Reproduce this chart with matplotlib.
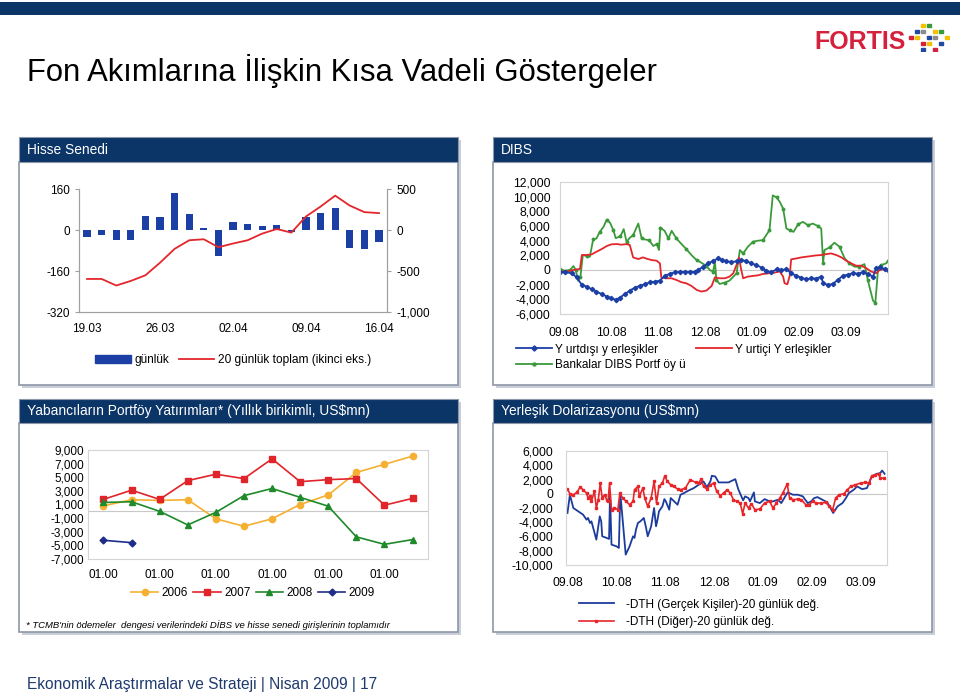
import matplotlib
matplotlib.use('Agg')
import matplotlib.pyplot as plt
from matplotlib.patches import Rectangle, Patch
from matplotlib.lines import Line2D
from matplotlib.ticker import FuncFormatter

W, H = 960, 693
NAVY = '#0b3467'
NARROW = ['Liberation Sans Narrow', 'Liberation Sans', 'DejaVu Sans']
plt.rcParams['font.family'] = ['Liberation Sans', 'DejaVu Sans']
plt.rcParams['font.size'] = 8

# --- Hisse Senedi (daily, US$mn) ---
hisse_dates = ['19.03', '20.03', '23.03', '24.03', '25.03', '26.03', '27.03', '30.03', '31.03', '01.04',
               '02.04', '03.04', '06.04', '07.04', '08.04', '09.04', '10.04', '13.04', '14.04', '15.04', '16.04']
hisse_gunluk = [-28, -21, -40, -40, 53, 49, 143, 62, 9, -102, 32, 25, 15, 21, -8, 49, 66, 85, -70, -74, -45]
hisse_toplam = [-597, -597, -677, -621, -552, -399, -230, -125, -113, -210, -165, -125, -44, 12, -32,
                165, 286, 419, 298, 218, 206]

# --- DIBS (x = months after 09.08) ---
month_labels = ['09.08', '10.08', '11.08', '12.08', '01.09', '02.09', '03.09']
yd_t = [-0.08, 0.02, 0.16, 0.27, 0.38, 0.48, 0.59, 0.69, 0.80, 0.91, 1.01, 1.10, 1.19, 1.30, 1.40,
        1.51, 1.61, 1.72, 1.83, 1.93, 2.04, 2.14, 2.25, 2.36, 2.46, 2.57, 2.68, 2.78, 2.85, 2.96,
        3.06, 3.17, 3.28, 3.35, 3.45, 3.56, 3.67, 3.77, 3.88, 3.98, 4.09, 4.20, 4.30, 4.41, 4.52,
        4.62, 4.73, 4.83, 4.94, 5.05, 5.15, 5.26, 5.36, 5.47, 5.51, 5.61, 5.72, 5.82, 5.93, 6.04,
        6.14, 6.25, 6.36, 6.46, 6.57, 6.64, 6.71, 6.82, 6.89]
yd_val = [-270, -270, -450, -1000, -2030, -2260, -2620, -2950, -3270, -3620, -3850, -4070, -3750, -3270, -2800,
          -2400, -2170, -1940, -1670, -1580, -1450, -800, -530, -300, -260, -260, -260, -260, 0, 450,
          900, 1220, 1580, 1360, 1180, 1090, 1180, 1350, 1220, 900, 680, 330, -130, -300, 100,
          0, 100, -440, -800, -1040, -1260, -1130, -1170, -900, -1800, -2030, -1900, -1350, -800, -620,
          -440, -490, -300, -590, -890, 240, 360, 140, 0]
yi_t = [-0.08, 0.06, 0.20, 0.34, 0.38, 0.48, 0.59, 0.69, 0.80, 0.91, 1.01, 1.12, 1.22, 1.33, 1.40,
        1.47, 1.58, 1.68, 1.76, 1.86, 1.97, 2.04, 2.07, 2.18, 2.29, 2.39, 2.50, 2.60, 2.71, 2.82,
        2.92, 3.03, 3.14, 3.21, 3.31, 3.42, 3.52, 3.60, 3.67, 3.72, 3.77, 3.81, 3.91, 4.02, 4.13,
        4.23, 4.37, 4.48, 4.59, 4.66, 4.69, 4.75, 4.80, 4.83, 4.94, 5.05, 5.15, 5.26, 5.36, 5.47,
        5.58, 5.68, 5.79, 5.90, 6.00, 6.11, 6.21, 6.32, 6.43, 6.53, 6.64, 6.71, 6.78, 6.89]
yi_val = [-210, -210, 0, 150, 2040, 2040, 2130, 2490, 2850, 3270, 3500, 3540, 3450, 3530, 3400,
          1720, 1490, 1720, 1540, 1360, 1270, 900, -1040, -1130, -1130, -1360, -1670, -1810, -2170, -2710,
          -2940, -2800, -2170, -1000, -1130, -1130, -900, -440, 700, 1700, 0, -1130, -900, -810, -720,
          -540, -440, -350, -200, -900, -1800, -1940, -800, 1450, 1580, 1720, 1810, 1900, 1990, 2040,
          2170, 2260, 2040, 1720, 1270, 900, 590, 590, 240, -210, -440, 0, 90, 0]
bk_t = [-0.08, 0.02, 0.13, 0.20, 0.25, 0.30, 0.35, 0.40, 0.48, 0.55, 0.62, 0.69, 0.76, 0.84, 0.91,
        0.98, 1.05, 1.10, 1.20, 1.27, 1.33, 1.40, 1.47, 1.58, 1.65, 1.72, 1.81, 1.90, 1.97, 2.02,
        2.05, 2.14, 2.22, 2.29, 2.39, 2.50, 2.60, 2.71, 2.82, 2.92, 3.03, 3.10, 3.17, 3.21, 3.24,
        3.31, 3.42, 3.52, 3.67, 3.74, 3.81, 3.91, 4.02, 4.13, 4.23, 4.30, 4.37, 4.44, 4.52, 4.59,
        4.66, 4.73, 4.80, 4.88, 4.98, 5.08, 5.19, 5.29, 5.40, 5.47, 5.51, 5.54, 5.65, 5.75, 5.86,
        5.97, 6.07, 6.18, 6.28, 6.39, 6.46, 6.57, 6.62, 6.68, 6.75, 6.85, 6.89]
bk_val = [90, -90, 0, 540, 0, -1490, -900, 2040, 1900, 1810, 4160, 4300, 5200, 5880, 6880,
          6430, 5430, 4340, 4610, 5570, 3860, 4390, 4750, 6340, 4340, 4160, 4070, 3270, 3540, 2720,
          5790, 5340, 4300, 5340, 4300, 3530, 2850, 2040, 1360, 1000, 540, 0, -210, 1130, -1360,
          -1900, -1720, -1450, -440, 2720, 2260, 3170, 3860, 4000, 4070, 4750, 5430, 10180, 9900, 9280,
          8370, 5650, 5430, 5200, 6240, 6560, 6100, 6330, 6000, 5650, 1000, 2720, 3090, 3720, 3170,
          1580, 900, 450, 450, 810, -1360, -4160, -4520, 240, 680, 900, 1270]

# --- Yabancilarin portfoy yatirimlari (monthly cumulative) ---
years = ['2006', '2007', '2008', '2009']
port_2006 = [800, 1700, 1600, 1700, -1100, -2200, -1100, 1000, 2400, 5700, 6900, 8100]
port_2007 = [1750, 3100, 1750, 4500, 5450, 4800, 7700, 4350, 4650, 4800, 900, 1900]
port_2008 = [1300, 1400, 0, -2000, -150, 2300, 3350, 2050, 750, -3750, -4850, -4150]
port_2009 = [-4250, -4600]

# --- Yerlesik dolarizasyonu ---
gk_t = [0.0, 0.05, 0.12, 0.22, 0.32, 0.39, 0.42, 0.46, 0.49, 0.59, 0.66, 0.69, 0.71, 0.80, 0.85,
        0.87, 0.90, 1.00, 1.05, 1.08, 1.19, 1.27, 1.34, 1.37, 1.40, 1.44, 1.49, 1.56, 1.60, 1.64,
        1.71, 1.77, 1.81, 1.84, 1.87, 1.94, 1.98, 2.01, 2.08, 2.11, 2.18, 2.25, 2.31, 2.38, 2.48,
        2.58, 2.68, 2.78, 2.85, 2.92, 2.95, 3.02, 3.09, 3.19, 3.29, 3.43, 3.49, 3.59, 3.63, 3.70,
        3.73, 3.81, 3.83, 3.93, 4.03, 4.13, 4.20, 4.30, 4.37, 4.47, 4.50, 4.61, 4.71, 4.81, 4.91,
        4.98, 5.04, 5.11, 5.21, 5.31, 5.43, 5.52, 5.62, 5.69, 5.75, 5.85, 5.92, 6.02, 6.12, 6.22,
        6.32, 6.39, 6.43, 6.48]
gk_val = [-2700, -140, -2000, -2470, -2940, -3640, -3400, -4100, -3870, -6440, -3170, -3870, -5970, -6200, -6340,
          -140, -7140, -7370, -7600, 90, -8540, -7370, -5970, -6200, -5040, -4100, -3870, -3400, -4570, -5970,
          -4570, -2000, -4570, -3640, -2470, -1770, -750, -1070, -2240, -600, -1070, -1540, -140, 90, 470,
          790, 1260, 1730, 930, 1730, 2520, 2430, 1590, 1590, 1590, 2050, 650, -930, -370, -610,
          -1070, 190, -1070, -1310, -750, -1070, -1070, -840, -1310, -140, 190, -140, -140, -370, -1310,
          -1070, -610, -470, -840, -1210, -2700, -1770, -1310, -610, 90, 560, 1030, 650, 790, 2430,
          2800, 2890, 3260, 2800]
dg_t = [0.0, 0.05, 0.12, 0.19, 0.26, 0.32, 0.39, 0.42, 0.46, 0.49, 0.55, 0.59, 0.63, 0.67, 0.71,
        0.76, 0.80, 0.83, 0.86, 0.90, 0.96, 1.03, 1.07, 1.13, 1.20, 1.27, 1.34, 1.37, 1.44, 1.47,
        1.54, 1.58, 1.64, 1.71, 1.77, 1.82, 1.87, 1.94, 1.99, 2.04, 2.11, 2.18, 2.25, 2.31, 2.41,
        2.51, 2.62, 2.68, 2.73, 2.78, 2.85, 2.92, 2.99, 3.05, 3.12, 3.19, 3.26, 3.33, 3.39, 3.46,
        3.53, 3.58, 3.63, 3.70, 3.76, 3.83, 3.93, 4.03, 4.13, 4.20, 4.27, 4.34, 4.40, 4.49, 4.54,
        4.61, 4.71, 4.78, 4.87, 4.94, 5.01, 5.08, 5.18, 5.28, 5.35, 5.42, 5.48, 5.55, 5.65, 5.72,
        5.79, 5.88, 5.99, 6.09, 6.16, 6.22, 6.29, 6.36, 6.39, 6.46]
dg_val = [650, 0, -140, 190, 930, 560, 90, -610, -370, -1070, 330, -2000, -840, 1490, -610,
          -140, -840, -1070, 1490, -2240, -2000, -2240, 90, -610, -1070, -1540, -1070, 560, 1030, -370,
          790, -610, -1770, -610, 1730, -1310, 1030, 1490, 2520, 1730, 1260, 1030, 650, 560, 790,
          1960, 1590, 1490, 2050, 1030, 650, 1260, 1490, 330, -280, 90, 560, 90, -840, -1070,
          -1310, -2800, -1310, -2000, -1400, -2240, -2150, -1310, -1070, -2000, -1310, -610, 90, 1350, -610,
          -840, -750, -840, -1540, -1540, -1070, -1310, -1310, -1210, -1770, -2240, -610, -140, 0, 560,
          1030, 1260, 1490, 1590, 1490, 2520, 2660, 2800, 2190, 2190]

RED = '#e3262b'
BLUE = '#1c3fa6'
GREEN = '#3a9a3a'
comma = FuncFormatter(lambda v, p: f'{v:,.0f}')


def px_rect(x0, y0, x1, y1):
    return [x0 / W, 1 - y1 / H, (x1 - x0) / W, (y1 - y0) / H]


def fig_box(x0, y0, x1, y1, **kw):
    fig.add_artist(Rectangle((x0 / W, 1 - y1 / H), (x1 - x0) / W, (y1 - y0) / H,
                             transform=fig.transFigure, zorder=-5, **kw))


def panel(x0, x1, yh0, yh1, yb, title):
    fig_box(x0 + 3, yh0 + 3, x1 + 3, yb + 3, facecolor='#c9ced8', edgecolor='none')
    fig_box(x0, yh1, x1, yb, facecolor='white', edgecolor='#8d97a8', linewidth=1.2)
    fig_box(x0, yh0, x1, yh1, facecolor=NAVY, edgecolor='#8d97a8', linewidth=0.8)
    fig.text((x0 + 8) / W, 1 - (yh0 + yh1) / 2 / H, title, color='white', fontsize=9.9,
             va='center', family=NARROW)


def light_frame(ax, color='#d4d4d4'):
    ax.patch.set_alpha(0)
    for s in ax.spines.values():
        s.set_color(color)
        s.set_linewidth(0.8)


fig = plt.figure(figsize=(W / 100, H / 100), dpi=100)

# header band, title, logo
fig_box(0, 2, W, 15, facecolor=NAVY, edgecolor='none')
fig.text(27 / W, 1 - 81 / H, 'Fon Akımlarına İlişkin Kısa Vadeli Göstergeler', fontsize=22.3,
         family=NARROW, va='baseline')
fig.text(814 / W, 1 - 49 / H, 'FORTIS', color='#d4213d', fontsize=18, fontweight='bold',
         family=NARROW, va='baseline')
logo = fig.add_axes(px_rect(908, 22, 950, 52))
logo.set_axis_off()
logo.set_xlim(0, 7)
logo.set_ylim(0, 5)
logo_cols = ['#f2c200', '#1f4aa0', '#d4213d', '#3a9a3a', '#8c8c8c']
for i in range(7):
    for j in range(5):
        if abs(i - 3) + abs(j - 2) <= 3 and (i + 2 * j) % 3 != 0:
            logo.add_patch(Rectangle((i + 0.2, j + 0.25), 0.6, 0.5,
                                     color=logo_cols[(i * 3 + j) % 5]))

fig.text(27 / W, 1 - 689 / H, 'Ekonomik Araştırmalar ve Strateji | Nisan 2009 | 17',
         color='#1f3a6e', fontsize=11.2, family=NARROW, va='baseline')

panel(19, 458, 137, 162, 385, 'Hisse Senedi')
panel(493, 932, 137, 162, 385, 'DIBS')
panel(19, 458, 399, 423, 632, 'Yabancıların Portföy Yatırımları* (Yıllık birikimli, US$mn)')
panel(493, 932, 399, 423, 632, 'Yerleşik Dolarizasyonu (US$mn)')

# ---- panel 1: Hisse Senedi ----
ax1 = fig.add_axes(px_rect(79, 189, 387, 312))
ax1.patch.set_alpha(0)
xi = list(range(len(hisse_dates)))
ax1.bar(xi, hisse_gunluk, width=0.5, color=BLUE, zorder=2)
ax1.set_xlim(-0.55, len(xi) - 0.45)
ax1.set_ylim(-320, 160)
ax1.set_yticks([160, 0, -160, -320])
ax1.yaxis.set_major_formatter(comma)
ax1.set_xticks(xi[::5])
ax1.set_xticklabels(hisse_dates[::5])
ax1b = ax1.twinx()
ax1b.plot(xi, hisse_toplam, color=RED, lw=1.3)
ax1b.set_ylim(-1000, 500)
ax1b.set_yticks([500, 0, -500, -1000])
ax1b.yaxis.set_major_formatter(comma)
for a in (ax1, ax1b):
    a.spines['top'].set_visible(False)
    for s in ('left', 'right', 'bottom'):
        a.spines[s].set_color('#a0a0a0')
    a.tick_params(colors='#a0a0a0', labelcolor='black', labelsize=8.5, length=3)
ax1.tick_params(axis='x', length=0, pad=8)
ax1.legend([Patch(color=BLUE), Line2D([], [], color=RED, lw=1.3)],
           ['günlük', '20 günlük toplam (ikinci eks.)'], loc='center',
           bbox_to_anchor=(233 / W, 1 - 360 / H), bbox_transform=fig.transFigure, ncol=2,
           frameon=False, fontsize=8.6, handlelength=3.0, handleheight=0.6, columnspacing=0.8,
           handletextpad=0.3)

# ---- panel 2: DIBS ----
ax2 = fig.add_axes(px_rect(560, 182, 888, 314))
ax2.axhline(0, color='#c8c8c8', lw=0.8)
l_bk, = ax2.plot(bk_t, bk_val, color=GREEN, lw=1.3, marker='o', ms=1.8, markevery=2)
l_yi, = ax2.plot(yi_t, yi_val, color=RED, lw=1.3)
l_yd, = ax2.plot(yd_t, yd_val, color=BLUE, lw=1.3, marker='D', ms=2.2)
ax2.set_xlim(-0.085, 6.89)
ax2.set_ylim(-6000, 12000)
ax2.set_yticks(range(-6000, 12001, 2000))
ax2.yaxis.set_major_formatter(comma)
ax2.set_xticks(range(7))
ax2.set_xticklabels(month_labels)
ax2.tick_params(axis='x', length=0, pad=9, labelsize=8.8)
ax2.tick_params(axis='y', length=0, pad=7, labelsize=8.8)
light_frame(ax2)
ax2.legend([l_yd, l_bk, l_yi], ['Y urtdışı y erleşikler', 'Bankalar DIBS Portf öy ü',
                                'Y urtiçi Y erleşikler'],
           loc='upper left', bbox_to_anchor=(505 / W, 1 - 333 / H), bbox_transform=fig.transFigure,
           ncol=2, frameon=False, fontsize=8.5, handlelength=3.1, handletextpad=0.2,
           columnspacing=0.9, labelspacing=0.3, numpoints=1, markerscale=1.2)

# ---- panel 3: portfoy yatirimlari ----
ax3 = fig.add_axes(px_rect(88, 450, 428, 559))
ax3.axhline(0, color='#c8c8c8', lw=0.8)
mi = list(range(12))
l06, = ax3.plot(mi, port_2006, color='#f5b031', lw=1.2, marker='o', ms=4.5)
l07, = ax3.plot(mi, port_2007, color='#e1232a', lw=1.2, marker='s', ms=4.5)
l08, = ax3.plot(mi, port_2008, color='#1f8a2a', lw=1.2, marker='^', ms=5)
l09, = ax3.plot(mi[:len(port_2009)], port_2009, color='#1f2d8a', lw=1.2, marker='D', ms=3.5)
ax3.set_xlim(-0.55, 11.55)
ax3.set_ylim(-7000, 9000)
ax3.set_yticks(range(-7000, 9001, 2000))
ax3.yaxis.set_major_formatter(comma)
ax3.set_xticks(mi[::2])
ax3.set_xticklabels(['01.00'] * 6)
ax3.tick_params(axis='x', length=0, pad=7, labelsize=8.5)
ax3.tick_params(axis='y', length=0, pad=3, labelsize=8.5)
light_frame(ax3)
ax3.legend([l06, l07, l08, l09], years, loc='center', bbox_to_anchor=(253 / W, 1 - 593 / H),
           bbox_transform=fig.transFigure, ncol=4, frameon=False, fontsize=8.5, handlelength=2.3,
           handletextpad=0.3, columnspacing=0.45)
fig.text(26 / W, 1 - 628 / H,
         "* TCMB'nin ödemeler  dengesi verilerindeki DİBS ve hisse senedi girişlerinin toplamıdır",
         fontsize=6.8, style='italic', va='baseline')

# ---- panel 4: dolarizasyon ----
ax4 = fig.add_axes(px_rect(566, 451, 887, 565))
ax4.axhline(0, color='#c8c8c8', lw=0.8)
l_gk, = ax4.plot(gk_t, gk_val, color='#1c3c9c', lw=1.3)
l_dg, = ax4.plot(dg_t, dg_val, color='#e8262a', lw=1.2, marker='s', ms=1.8)
ax4.set_xlim(-0.03, 6.53)
ax4.set_ylim(-10000, 6000)
ax4.set_yticks(range(-10000, 6001, 2000))
ax4.yaxis.set_major_formatter(comma)
ax4.set_xticks(range(7))
ax4.set_xticklabels(month_labels)
ax4.tick_params(axis='x', length=0, pad=9, labelsize=8.8)
ax4.tick_params(axis='y', length=0, pad=9, labelsize=8.8)
light_frame(ax4)
ax4.legend([l_gk, l_dg], ['-DTH (Gerçek Kişiler)-20 günlük değ.', '-DTH (Diğer)-20 günlük değ.'],
           loc='upper left', bbox_to_anchor=(568 / W, 1 - 588 / H), bbox_transform=fig.transFigure,
           frameon=False, fontsize=8.5, handlelength=3.0, handletextpad=1.0, labelspacing=0.45,
           numpoints=1)

fig.savefig('out.png', dpi=100)
